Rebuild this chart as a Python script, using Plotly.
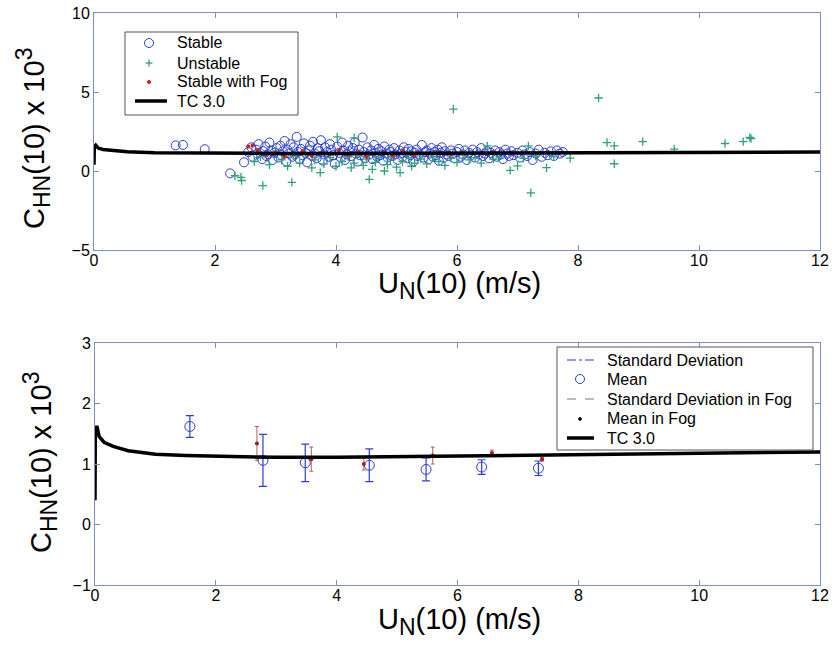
import plotly.graph_objects as go

# ---------------- data ----------------
# Top panel: stable (blue circles)
STABLE_X = [1.35, 1.47, 1.83, 2.25, 2.48,
            2.55, 2.60, 2.62, 2.68, 2.70, 2.72, 2.78, 2.80, 2.83, 2.85, 2.88, 2.90, 2.93, 2.95, 2.98,
            3.02, 3.05, 3.08, 3.10, 3.12, 3.15, 3.18, 3.20, 3.22, 3.25, 3.28, 3.30, 3.32, 3.35, 3.37, 3.40, 3.42, 3.45, 3.47, 3.50,
            3.52, 3.55, 3.57, 3.60, 3.62, 3.65, 3.68, 3.70, 3.72, 3.75, 3.78, 3.80, 3.82, 3.85, 3.88, 3.90, 3.92, 3.95, 3.98,
            4.02, 4.05, 4.08, 4.10, 4.12, 4.15, 4.18, 4.20, 4.22, 4.25, 4.28, 4.31, 4.33, 4.36, 4.38, 4.40, 4.44, 4.46, 4.48,
            4.52, 4.55, 4.58, 4.60, 4.63, 4.65, 4.68, 4.70, 4.73, 4.75, 4.78, 4.80, 4.83, 4.85, 4.88, 4.90, 4.93, 4.96, 4.98,
            5.02, 5.05, 5.08, 5.10, 5.12, 5.15, 5.18, 5.20, 5.23, 5.25, 5.28, 5.30, 5.33, 5.35, 5.38, 5.42, 5.45, 5.48,
            5.50, 5.53, 5.55, 5.58, 5.60, 5.63, 5.65, 5.68, 5.70, 5.73, 5.75, 5.78, 5.80, 5.83, 5.86, 5.90, 5.93, 5.96,
            6.00, 6.03, 6.06, 6.10, 6.13, 6.16, 6.20, 6.23, 6.26, 6.30, 6.33, 6.36, 6.40, 6.43, 6.46,
            6.50, 6.53, 6.56, 6.60, 6.63, 6.66, 6.70, 6.73, 6.76, 6.80, 6.83, 6.86, 6.90, 6.93,
            7.00, 7.04, 7.08, 7.12, 7.16, 7.20, 7.25, 7.30, 7.35, 7.40, 7.45, 7.50, 7.55, 7.60, 7.65, 7.70, 7.75]
STABLE_Y = [1.62, 1.65, 1.38, -0.15, 0.55,
            1.20, 1.50, 0.90, 1.35, 1.10, 1.70, 0.75, 1.25, 1.55, 0.95, 1.05, 1.80, 1.30, 0.70, 1.15,
            1.45, 0.85, 1.60, 1.00, 1.25, 1.90, 0.60, 1.35, 1.10, 1.70, 0.90, 1.50, 1.05, 2.16, 1.20, 0.75, 1.40, 1.00, 1.75, 1.15,
            0.55, 1.30, 1.60, 0.95, 1.85, 1.10, 0.80, 1.45, 1.25, 1.95, 0.65, 1.05, 1.50, 1.20, 0.90, 1.70, 1.35, 1.00, 0.45,
            1.55, 1.15, 0.85, 1.80, 1.30, 0.70, 1.05, 1.60, 1.25, 0.95, 1.45, 1.80, 1.10, 0.60, 1.35, 1.00, 2.12, 1.20, 0.80,
            1.50, 1.05, 1.30, 0.75, 1.65, 1.15, 0.90, 1.40, 1.00, 1.25, 0.65, 1.55, 1.10, 0.85, 1.35, 1.20, 0.95, 1.45, 1.05,
            0.70, 1.30, 1.10, 0.90, 1.50, 1.20, 0.80, 1.40, 1.00, 1.25, 0.60, 1.15, 1.35, 0.95, 1.05, 1.65, 0.85, 1.20,
            1.30, 0.75, 1.10, 1.45, 0.90, 1.20, 1.00, 1.35, 0.65, 1.15, 1.50, 0.85, 1.25, 1.05, 0.95, 1.30, 1.10, 0.80,
            1.20, 1.40, 0.90, 1.05, 1.30, 0.70, 1.15, 1.00, 1.35, 0.85, 1.20, 1.05, 1.45, 0.95, 1.10,
            1.25, 0.80, 1.15, 1.00, 1.30, 0.90, 1.20, 1.05, 0.75, 1.35, 1.10, 0.95, 1.25, 1.00,
            1.15, 0.85, 1.30, 1.05, 0.95, 1.20, 0.70, 1.10, 1.35, 0.90, 1.15, 1.00, 1.25, 0.95, 1.30, 1.10, 1.20]

# Top panel: unstable (green plus)
UNSTABLE_X = [2.33, 2.43, 2.44, 2.79, 3.27, 4.55, 2.65, 2.75, 2.90, 3.00, 3.10, 3.20, 3.30, 3.40, 3.50, 3.60,
              3.65, 3.74, 3.80, 3.90, 4.00, 4.02, 4.10, 4.20, 4.25, 4.30, 4.35, 4.45, 4.50, 4.60, 4.65, 4.70,
              4.80, 4.85, 4.90, 5.00, 5.06, 5.10, 5.20, 5.25, 5.30, 5.40, 5.50, 5.60, 5.70, 5.80, 5.90, 5.94,
              6.00, 6.10, 6.20, 6.30, 6.40, 6.50, 6.60, 6.70, 6.88, 7.00, 7.10, 7.18, 7.22, 7.30, 7.48, 7.60,
              7.87, 8.34, 8.48, 8.60, 8.60, 9.07, 9.59, 10.43, 10.73, 10.84, 10.86, 4.30]
UNSTABLE_Y = [-0.30, -0.40, -0.60, -0.92, -0.72, -0.53, 0.60, 0.90, 0.40, 1.20, 0.70, 0.30, 0.95, 0.50, 1.10, 0.20,
              0.70, -0.10, 0.45, 0.85, 0.30, 2.16, 0.60, 0.90, 0.20, 0.50, 1.00, 0.35, 0.75, 0.10, 0.55, 0.90,
              0.00, 0.40, 0.70, 0.25, -0.10, 0.60, 0.85, 0.30, 0.50, 0.75, 0.45, 0.90, 0.60, 0.35, 0.80, 3.92,
              0.55, 1.00, 0.70, 0.85, 0.50, 1.59, 0.75, 0.90, 0.04, 0.32, 0.80, 1.59, -1.38, 0.95, 0.21, 0.90,
              0.81, 4.62, 1.80, 1.59, 0.46, 1.86, 1.38, 1.74, 1.86, 2.12, 2.05, 2.10]

# Top panel: stable with fog (red dots)
FOG_X = [2.55, 2.62, 2.70, 2.85, 3.00, 3.15, 3.30, 3.45, 3.60, 3.75, 3.90, 4.05, 4.20, 4.35, 4.50, 4.65,
         4.80, 4.95, 5.10, 5.30, 5.50, 5.70, 5.90, 6.10, 6.40, 6.60]
FOG_Y = [1.55, 1.62, 1.30, 1.00, 1.20, 0.90, 1.10, 1.25, 0.95, 1.15, 1.05, 1.30, 1.00, 1.20, 0.90, 1.10,
         1.15, 0.95, 1.25, 1.00, 1.10, 1.20, 1.05, 1.15, 1.10, 1.20]

# TC 3.0 curve
TC_X = [0.0, 0.005, 0.03, 0.07, 0.15, 0.30, 0.55, 1.0, 1.5, 2.0, 3.0, 4.0, 5.0, 6.0, 7.0, 8.0, 9.0, 10.0, 11.0, 12.0]
TC_Y = [0.40, 1.50, 1.63, 1.45, 1.36, 1.29, 1.22, 1.16, 1.14, 1.13, 1.11, 1.11, 1.12, 1.13, 1.14, 1.16, 1.17, 1.18, 1.19, 1.20]

# Bottom panel: bin means and standard deviations
MEAN_X = [1.57, 2.78, 3.48, 4.54, 5.48, 6.40, 7.34]
MEAN_Y = [1.62, 1.06, 1.02, 0.98, 0.91, 0.95, 0.93]
MEAN_SD = [0.18, 0.43, 0.31, 0.27, 0.19, 0.12, 0.12]

FOGM_X = [2.68, 3.58, 4.45, 5.59, 6.57, 7.40]
FOGM_Y = [1.34, 1.08, 1.00, 1.14, 1.18, 1.08]
FOGM_SD = [0.28, 0.20, 0.10, 0.14, 0.05, 0.03]

X_TICKS = [0, 2, 4, 6, 8, 10, 12]
TOP_Y_TICKS = [-5, 0, 5, 10]
BOT_Y_TICKS = [-1, 0, 1, 2, 3]

TOP_LEGEND = ["Stable", "Unstable", "Stable with Fog", "TC 3.0"]
BOT_LEGEND = ["Standard Deviation", "Mean", "Standard Deviation in Fog", "Mean in Fog", "TC 3.0"]

SUBSTYLE = "font-size:23px"
X_TITLE = f"U<sub><span style='{SUBSTYLE}'>N</span></sub>(10) (m/s)"
Y_TITLE = (f"C<sub><span style='{SUBSTYLE}'>HN</span></sub>(10) x 10"
           f"<sup><span style='{SUBSTYLE}'>3</span></sup>")

# ---------------- figure ----------------
W, H = 834, 652
FONT = "Liberation Sans, Arial, sans-serif"
AX_COL = "#7f8fbf"
BLUE = "#2b3fd6"
GREEN = "#2fa374"
RED = "#d42222"
FOG_SD_COL = "#b06060"
FOG_MEAN_COL = "#b01818"


def px_x(p):
    return p / W


def px_y(p):
    return 1 - p / H


fig = go.Figure()

# top panel
fig.add_trace(go.Scatter(x=STABLE_X, y=STABLE_Y, mode="markers", name=TOP_LEGEND[0],
                         marker=dict(symbol="circle-open", size=9, color=BLUE, line=dict(width=1)),
                         xaxis="x", yaxis="y"))
fig.add_trace(go.Scatter(x=UNSTABLE_X, y=UNSTABLE_Y, mode="markers", name=TOP_LEGEND[1],
                         marker=dict(symbol="cross-thin-open", size=6, color=GREEN, line=dict(width=1.3, color=GREEN)),
                         xaxis="x", yaxis="y"))
fig.add_trace(go.Scatter(x=FOG_X, y=FOG_Y, mode="markers", name=TOP_LEGEND[2],
                         marker=dict(symbol="circle", size=4, color=RED),
                         xaxis="x", yaxis="y"))
fig.add_trace(go.Scatter(x=TC_X, y=TC_Y, mode="lines", name=TOP_LEGEND[3],
                         line=dict(color="black", width=3.5),
                         xaxis="x", yaxis="y"))

# bottom panel
fig.add_trace(go.Scatter(x=MEAN_X, y=MEAN_Y, mode="markers", name=BOT_LEGEND[0],
                         marker=dict(size=1, opacity=0, color=BLUE),
                         error_y=dict(type="data", array=MEAN_SD, color=BLUE, thickness=1.2, width=4),
                         xaxis="x2", yaxis="y2"))
fig.add_trace(go.Scatter(x=MEAN_X, y=MEAN_Y, mode="markers", name=BOT_LEGEND[1],
                         marker=dict(symbol="circle-open", size=10, color=BLUE, line=dict(width=1)),
                         xaxis="x2", yaxis="y2"))
fig.add_trace(go.Scatter(x=FOGM_X, y=FOGM_Y, mode="markers", name=BOT_LEGEND[2],
                         marker=dict(size=1, opacity=0, color=FOG_SD_COL),
                         error_y=dict(type="data", array=FOGM_SD, color=FOG_SD_COL, thickness=1, width=2),
                         xaxis="x2", yaxis="y2"))
fig.add_trace(go.Scatter(x=FOGM_X, y=FOGM_Y, mode="markers", name=BOT_LEGEND[3],
                         marker=dict(symbol="circle", size=4, color=FOG_MEAN_COL),
                         xaxis="x2", yaxis="y2"))
fig.add_trace(go.Scatter(x=TC_X, y=TC_Y, mode="lines", name=BOT_LEGEND[4],
                         line=dict(color="black", width=3.5),
                         xaxis="x2", yaxis="y2"))

# ---------- hand-drawn MATLAB style legends (shapes + text) ----------
shapes = []
annotations = []
LEG_FONT = dict(family=FONT, size=16, color="black")


def box(x0, y0, x1, y1):
    shapes.append(dict(type="rect", xref="paper", yref="paper",
                       x0=px_x(x0), x1=px_x(x1), y0=px_y(y1), y1=px_y(y0),
                       fillcolor="white", line=dict(color="#555555", width=1)))


def seg(x0, x1, y, color, width, dash="solid"):
    shapes.append(dict(type="line", xref="paper", yref="paper",
                       x0=px_x(x0), x1=px_x(x1), y0=px_y(y), y1=px_y(y),
                       line=dict(color=color, width=width, dash=dash)))


def circ(cx, cy, r, color, filled):
    shapes.append(dict(type="circle", xref="paper", yref="paper",
                       x0=px_x(cx - r), x1=px_x(cx + r), y0=px_y(cy + r), y1=px_y(cy - r),
                       fillcolor=color if filled else "rgba(0,0,0,0)",
                       line=dict(color=color, width=1)))


def plus(cx, cy, r, color):
    seg(cx - r, cx + r, cy, color, 1.3)
    shapes.append(dict(type="line", xref="paper", yref="paper",
                       x0=px_x(cx), x1=px_x(cx), y0=px_y(cy + r), y1=px_y(cy - r),
                       line=dict(color=color, width=1.3)))


def label(text, x, y):
    annotations.append(dict(text=text, x=px_x(x), y=px_y(y), xref="paper", yref="paper",
                            xanchor="left", yanchor="middle", showarrow=False, font=LEG_FONT))


# top legend
box(125, 32, 298, 115)
rows = [43, 63, 82, 101]
circ(149, rows[0], 4.5, BLUE, False)
plus(149, rows[1], 3.5, GREEN)
circ(149, rows[2], 1.6, RED, True)
seg(135, 167, rows[3], "black", 3.5)
for name, r in zip(TOP_LEGEND, rows):
    label(name, 175, r)

# bottom legend
box(557, 347, 813, 450)
rows2 = [360, 379, 399, 419, 438]
seg(567, 594, rows2[0], BLUE, 1, "dashdot")
circ(580, rows2[1], 4.5, BLUE, False)
seg(567, 594, rows2[2], "#777777", 1, "dash")
circ(580, rows2[3], 1.4, "black", True)
seg(567, 594, rows2[4], "black", 3.5)
for name, r in zip(BOT_LEGEND, rows2):
    label(name, 605, r)

# axis titles
TITLE_FONT = dict(family=FONT, size=29, color="black")
annotations += [
    dict(text=X_TITLE, x=px_x(459), y=px_y(285), xref="paper", yref="paper",
         xanchor="center", yanchor="middle", showarrow=False, font=TITLE_FONT),
    dict(text=X_TITLE, x=px_x(459), y=px_y(621), xref="paper", yref="paper",
         xanchor="center", yanchor="middle", showarrow=False, font=TITLE_FONT),
    dict(text=Y_TITLE, x=px_x(33), y=px_y(139), xref="paper", yref="paper",
         xanchor="center", yanchor="middle", showarrow=False, textangle=-90, font=TITLE_FONT),
    dict(text=Y_TITLE, x=px_x(40), y=px_y(463), xref="paper", yref="paper",
         xanchor="center", yanchor="middle", showarrow=False, textangle=-90, font=TITLE_FONT),
]

axis_common = dict(showline=True, linecolor=AX_COL, linewidth=1, mirror="ticks",
                   ticks="inside", ticklen=5, tickcolor=AX_COL, showgrid=False, zeroline=False,
                   automargin=False,
                   tickfont=dict(family=FONT, size=16, color="black"))

fig.update_layout(
    width=W, height=H, autosize=False, margin=dict(l=0, r=0, t=0, b=0, pad=0),
    paper_bgcolor="white", plot_bgcolor="white", showlegend=False,
    font=dict(family=FONT, color="black"),
    xaxis=dict(domain=[px_x(94), px_x(820)], anchor="y", range=[0, 12], tickvals=X_TICKS,
               ticklabelstandoff=-4, **axis_common),
    yaxis=dict(domain=[px_y(250), px_y(13)], anchor="x", range=[-5, 10], tickvals=TOP_Y_TICKS, **axis_common),
    xaxis2=dict(domain=[px_x(95), px_x(820)], anchor="y2", range=[0, 12], tickvals=X_TICKS,
                ticklabelstandoff=-4, **axis_common),
    yaxis2=dict(domain=[px_y(585), px_y(343)], anchor="x2", range=[-1, 3], tickvals=BOT_Y_TICKS, **axis_common),
    shapes=shapes,
    annotations=annotations,
)

fig.write_html("out.html", config={"displayModeBar": False},
               post_script="document.body.style.margin='0';")
